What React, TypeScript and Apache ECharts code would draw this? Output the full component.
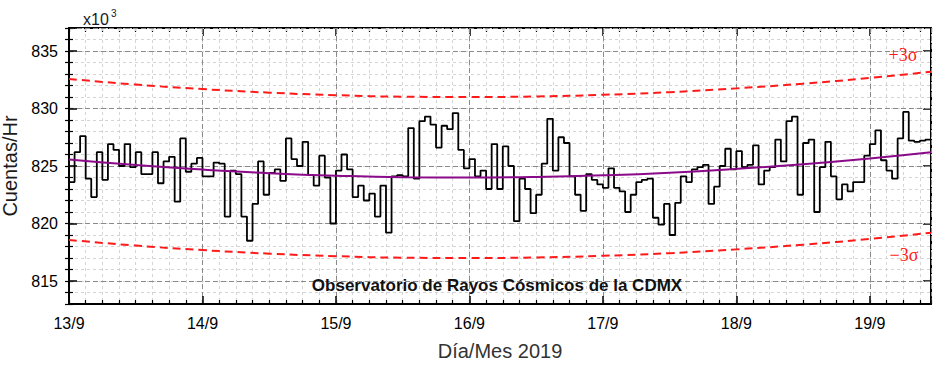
import React, { useEffect, useRef } from "react";
import * as echarts from "echarts";

// Hourly counts (x10^3), starting 13/9 00:00
const counts: number[] = [
  823.6, 826.2, 827.6, 823.9, 822.3, 826.2, 823.8, 826.9, 826.4, 825.0,
  826.9, 824.9, 826.2, 824.3, 824.3, 826.2, 823.5, 825.4, 825.8, 821.9,
  827.4, 824.5, 825.2, 825.7, 824.1, 824.1, 825.3, 825.2, 820.6, 824.6,
  824.3, 820.6, 818.5, 821.7, 825.4, 822.5, 824.4, 824.7, 823.7, 827.4,
  825.6, 825.0, 827.1, 824.2, 823.3, 825.9, 824.0, 820.0, 824.6, 826.0,
  824.7, 822.3, 823.3, 822.0, 822.6, 820.6, 823.3, 819.2, 824.1, 824.2,
  824.1, 828.3, 823.9, 828.9, 829.3, 828.6, 826.6, 828.5, 828.2, 829.6,
  826.4, 824.8, 825.6, 824.1, 824.6, 823.0, 826.9, 823.0, 826.7, 825.0,
  820.2, 823.9, 823.0, 820.9, 822.5, 825.2, 829.1, 824.6, 827.5, 827.0,
  824.1, 822.5, 821.1, 824.3, 823.8, 823.4, 823.1, 824.8, 823.1, 822.8,
  821.0, 822.5, 823.6, 823.8, 823.9, 820.5, 819.9, 821.7, 819.0, 821.8,
  824.1, 823.6, 824.7, 824.9, 825.1, 821.7, 823.2, 825.0, 826.5, 824.7,
  826.3, 824.9, 825.1, 826.8, 823.4, 824.6, 824.9, 827.3, 825.4, 828.9,
  829.3, 822.5, 827.0, 827.3, 821.0, 824.9, 827.1, 824.1, 822.1, 823.4,
  822.8, 823.6, 823.6, 825.9, 826.9, 828.1, 825.5, 824.6, 823.9, 827.4,
  829.7, 827.2, 827.1, 827.2, 827.3,
];

// Fit curve and ±3σ bands read at sample hours
const fitHours: number[] = [0, 12, 24, 36, 48, 60, 72, 84, 96, 108, 120, 132, 144, 155];
const fitValues: number[] = [825.57, 825.08, 824.69, 824.38, 824.16, 824.03, 824.0, 824.05, 824.19, 824.42, 824.75, 825.16, 825.66, 826.2];
const upperValues: number[] = [832.57, 832.08, 831.69, 831.38, 831.16, 831.03, 831.0, 831.05, 831.19, 831.42, 831.75, 832.16, 832.66, 833.2];
const lowerValues: number[] = [818.57, 818.08, 817.69, 817.38, 817.16, 817.03, 817.0, 817.05, 817.19, 817.42, 817.75, 818.16, 818.66, 819.2];

const dayLabels: string[] = ["13/9", "14/9", "15/9", "16/9", "17/9", "18/9", "19/9"];
const xMaxHours = 155;
const yMin = 813;
const yMax = 837;

const FONT = "'Liberation Sans', Arial, sans-serif";

export default function App() {
  const ref = useRef<HTMLDivElement>(null);

  useEffect(() => {
    if (!ref.current) return;
    const chart = echarts.init(ref.current, undefined, { renderer: "svg" });

    const stepData = counts.map((v, i) => [i, v]);
    stepData.push([counts.length, counts[counts.length - 1]]);

    const black = "#000";
    const majorGrid = { show: true, lineStyle: { color: "#8a8a8a", type: [5, 3] as any, width: 1 } };
    const minorGrid = { show: true, lineStyle: { color: "#d4d4d4", type: [3, 3] as any, width: 1 } };

    const xBase = { type: "value" as const, min: 0, max: xMaxHours, gridIndex: 0 };
    const yBase = { type: "value" as const, min: yMin, max: yMax, gridIndex: 0 };

    const option: any = {
      animation: false,
      grid: { left: 69, right: 9, top: 28, bottom: 63, containLabel: false, outerBoundsMode: "none" },
      xAxis: [
        {
          ...xBase,
          position: "bottom",
          interval: 3,
          axisLine: { show: false },
          axisTick: { show: true, inside: true, length: 4, lineStyle: { color: black, width: 1.2 } },
          axisLabel: { show: false },
          splitLine: minorGrid,
          z: 1,
        },
        {
          ...xBase,
          position: "bottom",
          interval: 24,
          axisLine: { show: true, onZero: false, lineStyle: { color: black, width: 2 } },
          axisTick: { show: true, inside: true, length: 8, lineStyle: { color: black, width: 1.5 } },
          axisLabel: {
            show: true,
            margin: 11,
            fontSize: 16,
            fontFamily: FONT,
            color: black,
            formatter: (v: number) => (v % 24 === 0 ? dayLabels[v / 24] ?? "" : ""),
          },
          splitLine: majorGrid,
          name: "Día/Mes 2019",
          nameLocation: "middle",
          nameGap: 37,
          nameTextStyle: { fontSize: 20, fontFamily: FONT, color: "#333" },
          z: 2,
        },
        {
          ...xBase,
          position: "top",
          interval: 3,
          axisLine: { show: false },
          axisTick: { show: true, inside: true, length: 4, lineStyle: { color: black, width: 1.2 } },
          axisLabel: { show: false },
          splitLine: { show: false },
        },
        {
          ...xBase,
          position: "top",
          interval: 24,
          axisLine: { show: true, onZero: false, lineStyle: { color: black, width: 2 } },
          axisTick: { show: true, inside: true, length: 8, lineStyle: { color: black, width: 1.5 } },
          axisLabel: { show: false },
          splitLine: { show: false },
        },
      ],
      yAxis: [
        {
          ...yBase,
          position: "left",
          interval: 1,
          axisLine: { show: false },
          axisTick: { show: true, inside: true, length: 4, lineStyle: { color: black, width: 1.2 } },
          axisLabel: { show: false },
          splitLine: minorGrid,
          z: 1,
        },
        {
          ...yBase,
          position: "left",
          splitNumber: 5,
          minInterval: 5,
          maxInterval: 5,
          axisLine: { show: true, onZero: false, lineStyle: { color: black, width: 2 } },
          axisTick: { show: true, inside: true, length: 8, lineStyle: { color: black, width: 1.5 } },
          axisLabel: {
            show: true,
            margin: 11,
            fontSize: 16,
            fontFamily: FONT,
            color: black,
            formatter: (v: number) => (Math.abs(v % 5) < 1e-6 ? String(v) : ""),
          },
          splitLine: majorGrid,
          name: "Cuentas/Hr",
          nameLocation: "middle",
          nameGap: 42,
          nameTextStyle: { fontSize: 20, fontFamily: FONT, color: "#1a1a1a" },
          z: 2,
        },
        {
          ...yBase,
          position: "right",
          interval: 1,
          axisLine: { show: false },
          axisTick: { show: true, inside: true, length: 4, lineStyle: { color: black, width: 1.2 } },
          axisLabel: { show: false },
          splitLine: { show: false },
        },
        {
          ...yBase,
          position: "right",
          splitNumber: 5,
          minInterval: 5,
          maxInterval: 5,
          axisLine: { show: true, onZero: false, lineStyle: { color: black, width: 2 } },
          axisTick: { show: true, inside: true, length: 8, lineStyle: { color: black, width: 1.5 } },
          axisLabel: { show: false },
          splitLine: { show: false },
        },
      ],
      graphic: [
        {
          type: "text",
          left: 83,
          top: 11,
          style: { text: "x10", fontSize: 16, fontFamily: FONT, fill: "#1a1a1a" },
        },
        {
          type: "text",
          left: 111,
          top: 8,
          style: { text: "3", fontSize: 10, fontFamily: FONT, fill: "#1a1a1a" },
        },
        {
          type: "text",
          x: 903,
          y: 55,
          style: {
            text: "+3σ",
            fontSize: 18,
            fontFamily: "'Liberation Serif', 'Times New Roman', serif",
            fill: "#ff1a1a",
            textAlign: "center",
            textVerticalAlign: "middle",
          },
          z: 100,
        },
        {
          type: "text",
          x: 904,
          y: 255,
          style: {
            text: "−3σ",
            fontSize: 18,
            fontFamily: "'Liberation Serif', 'Times New Roman', serif",
            fill: "#ff1a1a",
            textAlign: "center",
            textVerticalAlign: "middle",
          },
          z: 100,
        },
        {
          type: "text",
          x: 497,
          y: 285,
          style: {
            text: "Observatorio de Rayos Cósmicos de la CDMX",
            fontSize: 17,
            fontWeight: "bold",
            fontFamily: FONT,
            fill: "#111",
            textAlign: "center",
            textVerticalAlign: "middle",
          },
          z: 100,
        },
      ],
      series: [
        {
          type: "line",
          xAxisIndex: 1,
          yAxisIndex: 1,
          data: fitHours.map((h, i) => [h, upperValues[i]]),
          smooth: true,
          showSymbol: false,
          lineStyle: { color: "#ff1a1a", width: 2, type: [8, 5] },
          z: 3,
        },
        {
          type: "line",
          xAxisIndex: 1,
          yAxisIndex: 1,
          data: fitHours.map((h, i) => [h, lowerValues[i]]),
          smooth: true,
          showSymbol: false,
          lineStyle: { color: "#ff1a1a", width: 2, type: [8, 5] },
          z: 3,
        },
        {
          type: "line",
          xAxisIndex: 1,
          yAxisIndex: 1,
          data: stepData,
          step: "end",
          showSymbol: false,
          lineStyle: { color: "#000", width: 1.8 },
          z: 4,
        },
        {
          type: "line",
          xAxisIndex: 1,
          yAxisIndex: 1,
          data: fitHours.map((h, i) => [h, fitValues[i]]),
          smooth: true,
          showSymbol: false,
          lineStyle: { color: "#8a0a8a", width: 2 },
          z: 5,
        },
      ],
    };

    chart.setOption(option);
    return () => chart.dispose();
  }, []);

  return (
    <div
      ref={ref}
      style={{ position: "fixed", left: 0, top: 0, width: 940, height: 367, background: "#fff" }}
    />
  );
}
